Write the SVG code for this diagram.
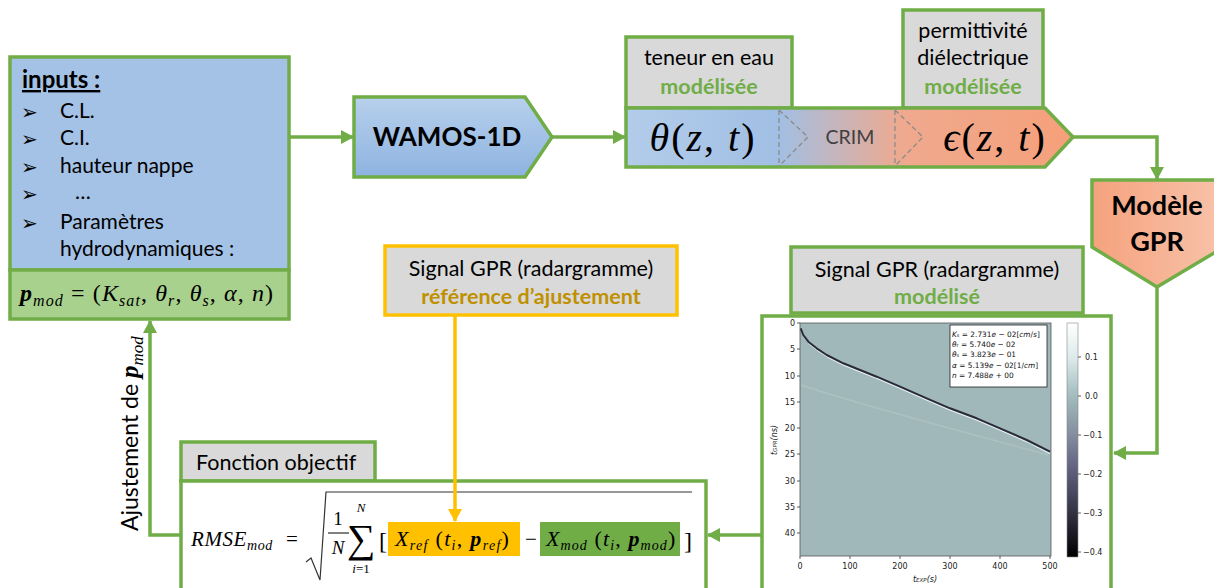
<svg xmlns="http://www.w3.org/2000/svg" width="1214" height="588" viewBox="0 0 1214 588">
<defs>
<linearGradient id="gWam" x1="0" y1="0" x2="0" y2="1"><stop offset="0" stop-color="#B7D0EC"/><stop offset="1" stop-color="#8EB3E0"/></linearGradient>
<linearGradient id="gTE" gradientUnits="userSpaceOnUse" x1="626" y1="0" x2="1073" y2="0"><stop offset="0" stop-color="#B3CCEA"/><stop offset="0.34" stop-color="#A1BFE4"/><stop offset="0.62" stop-color="#EFA98E"/><stop offset="1" stop-color="#F6A07A"/></linearGradient>
<linearGradient id="gGPR" x1="0" y1="0" x2="1" y2="0"><stop offset="0" stop-color="#F5A27E"/><stop offset="1" stop-color="#F8C3AA"/></linearGradient>
<linearGradient id="gCb" x1="0" y1="0" x2="0" y2="1"><stop offset="0" stop-color="#FFFFFF"/><stop offset="0.15" stop-color="#DCEAEA"/><stop offset="0.31" stop-color="#A3BCBD"/><stop offset="0.47" stop-color="#8590A0"/><stop offset="0.62" stop-color="#626280"/><stop offset="0.8" stop-color="#353547"/><stop offset="1" stop-color="#000000"/></linearGradient>
<marker id="ag" markerWidth="14" markerHeight="14" refX="12" refY="7" orient="auto" markerUnits="userSpaceOnUse"><path d="M0,0 L13,7 L0,14 z" fill="#70AD47"/></marker>
<marker id="ay" markerWidth="14" markerHeight="14" refX="12" refY="7" orient="auto" markerUnits="userSpaceOnUse"><path d="M0,0 L13,7 L0,14 z" fill="#FFC000"/></marker>
</defs>
<style>
.gs{stroke:#70AD47;stroke-width:3.5}
.t{font-family:Lato,"Liberation Sans",sans-serif;fill:#000}
.b{font-weight:bold}
.gt{fill:#70AD47;font-weight:bold}
.m{font-family:"Liberation Serif","DejaVu Serif",serif;font-style:italic;fill:#000}
.u{font-style:normal}
.bx{fill:#D9D9D9}
.con{fill:none;stroke:#70AD47;stroke-width:3.5}
.ax{font-family:"DejaVu Sans",sans-serif;font-size:8px;fill:#222}
.lg{font-family:"DejaVu Sans",sans-serif;font-size:7.4px;fill:#111}
.blt{font-family:"DejaVu Sans",sans-serif;font-size:20px;fill:#000}
</style>
<rect width="1214" height="588" fill="#FFFFFF"/>

<g id="inputs">
<rect x="10" y="57" width="279" height="213" fill="#A4C2E5" class="gs"/>
<rect x="10" y="270" width="279" height="49" fill="#A9D18E" class="gs"/>
<text x="22" y="88" class="t b" font-size="24" text-decoration="underline">inputs :</text>
<text x="21" y="119" class="blt">➢</text><text x="60" y="118" class="t" font-size="21">C.L.</text>
<text x="21" y="146" class="blt">➢</text><text x="60" y="145" class="t" font-size="21">C.I.</text>
<text x="21" y="174" class="blt">➢</text><text x="60" y="173" class="t" font-size="21">hauteur nappe</text>
<text x="21" y="201" class="blt">➢</text><text x="75" y="199" class="t" font-size="21">…</text>
<text x="21" y="230" class="blt">➢</text><text x="60" y="229" class="t" font-size="21">Paramètres</text>
<text x="60" y="256" class="t" font-size="21">hydrodynamiques :</text>
<text x="20" y="301" class="m" font-size="24" letter-spacing="1.1"><tspan font-weight="bold">p</tspan><tspan font-size="16" dy="5">mod</tspan><tspan dy="-5" class="u"> = (</tspan>K<tspan font-size="16" dy="5">sat</tspan><tspan dy="-5" class="u">, </tspan>θ<tspan font-size="16" dy="5">r</tspan><tspan dy="-5" class="u">, </tspan>θ<tspan font-size="16" dy="5">s</tspan><tspan dy="-5" class="u">, </tspan>α<tspan class="u">, </tspan>n<tspan class="u">)</tspan></text>
</g>

<g id="wamos">
<path d="M354,97 H525 L552,137 L525,177 H354 Z" fill="url(#gWam)" class="gs"/>
<text x="447" y="146" class="t b" font-size="26" text-anchor="middle">WAMOS-1D</text>
</g>

<g id="teneur">
<rect x="626" y="37" width="166" height="71" class="bx gs"/>
<text x="709" y="65" class="t" font-size="21.5" text-anchor="middle">teneur en eau</text>
<text x="709" y="94" class="t gt" font-size="21.5" text-anchor="middle">modélisée</text>
</g>

<g id="permittivite">
<rect x="903" y="10" width="140" height="98" class="bx gs"/>
<text x="973" y="38" class="t" font-size="21.5" text-anchor="middle">permittivité</text>
<text x="973" y="65" class="t" font-size="21.5" text-anchor="middle">diélectrique</text>
<text x="973" y="94" class="t gt" font-size="21.5" text-anchor="middle">modélisée</text>
</g>

<g id="theta-crim-eps">
<path d="M626,108 H1045 L1073,137 L1045,167 H626 Z" fill="url(#gTE)" class="gs"/>
<path d="M779,110 V166 M779,110 L808,137 L779,166 M895,110 V166 M895,110 L923,137 L895,166" fill="none" stroke="#8A8A8A" stroke-width="1.3" stroke-dasharray="5,3"/>
<text x="703" y="151" class="m" font-size="40" letter-spacing="2" text-anchor="middle">θ<tspan class="u">(</tspan>z<tspan class="u">, </tspan>t<tspan class="u">)</tspan></text>
<text x="850" y="144" class="t" font-size="19.5" text-anchor="middle" style="fill:#404040">CRIM</text>
<text x="995" y="151" class="m" font-size="40" letter-spacing="2" text-anchor="middle">ϵ<tspan class="u">(</tspan>z<tspan class="u">, </tspan>t<tspan class="u">)</tspan></text>
</g>

<g id="modele-gpr">
<path d="M1092,180 H1224 V247 L1157,287 L1092,247 Z" fill="url(#gGPR)" class="gs"/>
<text x="1157" y="215" class="t b" font-size="27" text-anchor="middle">Modèle</text>
<text x="1157" y="251" class="t b" font-size="27" text-anchor="middle">GPR</text>
</g>

<g id="signal-modelise">
<rect x="791" y="247" width="292" height="66" class="bx gs"/>
<text x="937" y="277" class="t" font-size="21.5" text-anchor="middle">Signal GPR (radargramme)</text>
<text x="937" y="304" class="t gt" font-size="21.5" text-anchor="middle">modélisé</text>
</g>

<g id="radargramme">
<rect x="762" y="316" width="349" height="280" fill="#FFFFFF" class="gs"/>
<rect x="800" y="323" width="251" height="233" fill="#A0B8B9" stroke="#555" stroke-width="0.8"/>
<path d="M801,385 C860,405 950,428 1048,455" fill="none" stroke="#C6D8D8" stroke-width="1.6" opacity="0.3"/>
<path d="M801.7,330.5 L804.3,337 L809.3,343.7 L817.7,350.3 L827.7,357 L844.3,365.3 L861,372 L877.7,378.7 L901,388.7 L927.7,400.3 L951,410.3 L977.7,420.3 L1001,430.3 L1027.7,442 L1050,453.7" fill="none" stroke="#E4EFEF" stroke-width="1.4" stroke-linejoin="round"/>
<path d="M800.7,328.3 L803.3,335 L808.3,341.7 L816.7,348.3 L826.7,355 L843.3,363.3 L860,370 L876.7,376.7 L900,386.7 L926.7,398.3 L950,408.3 L976.7,418.3 L1000,428.3 L1026.7,440 L1050,451.7" fill="none" stroke="#2A2A3C" stroke-width="2" stroke-linejoin="round"/>
<rect x="950" y="325" width="97" height="62" fill="#FFFFFF" stroke="#222" stroke-width="0.8"/>
<text x="952" y="337" class="lg"><tspan font-style="italic">K</tspan><tspan font-size="5">s</tspan> = 2.731<tspan font-style="italic">e</tspan> − 02[<tspan font-style="italic">cm</tspan>/<tspan font-style="italic">s</tspan>]</text>
<text x="952" y="347" class="lg"><tspan font-style="italic">θ</tspan><tspan font-size="5">r</tspan> = 5.740<tspan font-style="italic">e</tspan> − 02</text>
<text x="952" y="357" class="lg"><tspan font-style="italic">θ</tspan><tspan font-size="5">s</tspan> = 3.823<tspan font-style="italic">e</tspan> − 01</text>
<text x="952" y="368" class="lg"><tspan font-style="italic">α</tspan> = 5.139<tspan font-style="italic">e</tspan> − 02[1/<tspan font-style="italic">cm</tspan>]</text>
<text x="952" y="378" class="lg"><tspan font-style="italic">n</tspan> = 7.488<tspan font-style="italic">e</tspan> + 00</text>
<path d="M800,323 h-3 M800,349 h-3 M800,376 h-3 M800,402 h-3 M800,428 h-3 M800,454 h-3 M800,481 h-3 M800,507 h-3 M800,533 h-3 M800,556 v3 M850,556 v3 M900,556 v3 M950,556 v3 M1000,556 v3 M1050,556 v3" stroke="#333" stroke-width="0.8"/>
<g class="ax" text-anchor="end">
<text x="795" y="326">0</text><text x="795" y="352">5</text><text x="795" y="379">10</text><text x="795" y="405">15</text><text x="795" y="431">20</text><text x="795" y="457">25</text><text x="795" y="484">30</text><text x="795" y="510">35</text><text x="795" y="536">40</text>
</g>
<g class="ax" text-anchor="middle">
<text x="800" y="569">0</text><text x="850" y="569">100</text><text x="900" y="569">200</text><text x="950" y="569">300</text><text x="1000" y="569">400</text><text x="1050" y="569">500</text>
<text x="925" y="582" font-style="italic">t<tspan font-size="5.5">EXP</tspan>(s)</text>
<text transform="translate(777,440) rotate(-90)" font-style="italic">t<tspan font-size="5.5">GPR</tspan>(ns)</text>
</g>
<rect x="1067" y="323" width="11" height="234" fill="url(#gCb)" stroke="#888" stroke-width="0.6"/>
<path d="M1078,357 h3 M1078,396 h3 M1078,435 h3 M1078,474 h3 M1078,513 h3 M1078,552 h3" stroke="#333" stroke-width="0.8"/>
<g class="ax">
<text x="1085" y="360">0.1</text><text x="1085" y="399">0.0</text><text x="1083" y="438">−0.1</text><text x="1083" y="477">−0.2</text><text x="1083" y="516">−0.3</text><text x="1083" y="555">−0.4</text>
</g>
</g>

<g id="signal-reference">
<rect x="385" y="246" width="292" height="69" class="bx" stroke="#FFC000" stroke-width="3.5"/>
<text x="531" y="276" class="t" font-size="21.5" text-anchor="middle">Signal GPR (radargramme)</text>
<text x="531" y="304" class="t b" font-size="21.5" text-anchor="middle" style="fill:#BF9000">référence d’ajustement</text>
</g>

<g id="fonction-objectif">
<rect x="181" y="442" width="194" height="39" class="bx gs"/>
<rect x="181" y="481" width="525" height="115" fill="#FFFFFF" class="gs"/>
<text x="196" y="470" class="t" font-size="21.5">Fonction objectif</text>
<text x="191" y="546" class="m" font-size="21" letter-spacing="0.6">RMSE<tspan font-size="14" dy="4">mod</tspan></text>
<text x="286" y="546" class="m u" font-size="21">=</text>
<path d="M306,562 L311,558 L320,580 L326,492 H692" fill="none" stroke="#333" stroke-width="1.2"/>
<text x="338" y="525" class="m u" font-size="19" text-anchor="middle">1</text>
<line x1="328" y1="533" x2="349" y2="533" stroke="#000" stroke-width="1"/>
<text x="338" y="554" class="m" font-size="19" text-anchor="middle">N</text>
<text x="361" y="512" class="m" font-size="13" text-anchor="middle">N</text>
<text x="361" y="552" class="m u" font-size="40" text-anchor="middle">∑</text>
<text x="361" y="573" class="m" font-size="13" text-anchor="middle">i<tspan class="u">=1</tspan></text>
<text x="379" y="549" class="m u" font-size="24">[</text>
<rect x="388" y="522" width="132" height="34" fill="#FFC000"/>
<text x="395" y="546" class="m" font-size="22" letter-spacing="1.3">X<tspan font-size="14" dy="4">ref</tspan><tspan dy="-4" class="u"> (</tspan>t<tspan font-size="14" dy="4">i</tspan><tspan dy="-4" class="u">, </tspan><tspan font-weight="bold">p</tspan><tspan font-size="14" dy="4">ref</tspan><tspan dy="-4" class="u">)</tspan></text>
<text x="525" y="546" class="m u" font-size="21">−</text>
<rect x="540" y="522" width="140" height="34" fill="#70AD47"/>
<text x="546" y="546" class="m" font-size="22" letter-spacing="1.1">X<tspan font-size="14" dy="4">mod</tspan><tspan dy="-4" class="u"> (</tspan>t<tspan font-size="14" dy="4">i</tspan><tspan dy="-4" class="u">, </tspan><tspan font-weight="bold">p</tspan><tspan font-size="14" dy="4">mod</tspan><tspan dy="-4" class="u">)</tspan></text>
<text x="684" y="549" class="m u" font-size="24">]</text>
</g>

<g id="ajustement-label">
<text transform="translate(138,531) rotate(-90)" class="t" font-size="23">Ajustement de <tspan class="m" font-weight="bold" font-size="25">p</tspan><tspan class="m" font-size="17" dy="5">mod</tspan></text>
</g>

<g id="connectors">
<path d="M289,137 H353" class="con" marker-end="url(#ag)"/>
<path d="M552,137 H625" class="con" marker-end="url(#ag)"/>
<path d="M1073,137 H1157 V179" class="con" marker-end="url(#ag)"/>
<path d="M1157,287 V453 H1114" class="con" marker-end="url(#ag)"/>
<path d="M762,535 H708" class="con" marker-end="url(#ag)"/>
<path d="M181,535 H150 V321" class="con" marker-end="url(#ag)"/>
<path d="M455,315 V521" fill="none" stroke="#FFC000" stroke-width="3.5" marker-end="url(#ay)"/>
</g>
</svg>
